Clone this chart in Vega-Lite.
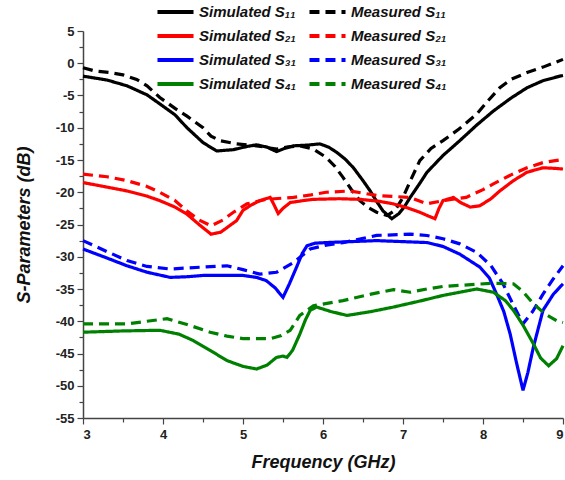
{
  "$schema": "https://vega.github.io/schema/vega-lite/v6.json",
  "width": 480,
  "height": 387,
  "autosize": {"type": "none"},
  "padding": {"left": 83, "top": 31, "right": 2, "bottom": 62},
  "background": "white",
  "config": {
    "view": {"stroke": null},
    "font": "Liberation Sans",
    "axis": {"domainColor": "#444", "tickColor": "#444", "domainWidth": 1.5, "tickWidth": 1.2, "grid": false, "labelFont": "Liberation Sans", "labelFontWeight": "bold", "labelFontSize": 13, "labelColor": "#222", "titleFont": "Liberation Sans", "titleFontWeight": "bold", "titleFontStyle": "italic", "titleFontSize": 18, "titleColor": "#111"}
  },
  "data": {"values": [
    {"f":3.0,"s":-2.0,"series":"Simulated S₁₁"},{"f":3.3,"s":-2.6,"series":"Simulated S₁₁"},{"f":3.55,"s":-3.5,"series":"Simulated S₁₁"},{"f":3.8,"s":-4.9,"series":"Simulated S₁₁"},{"f":3.96,"s":-6.3,"series":"Simulated S₁₁"},{"f":4.15,"s":-8.0,"series":"Simulated S₁₁"},{"f":4.3,"s":-10.0,"series":"Simulated S₁₁"},{"f":4.5,"s":-12.3,"series":"Simulated S₁₁"},{"f":4.67,"s":-13.6,"series":"Simulated S₁₁"},{"f":4.88,"s":-13.4,"series":"Simulated S₁₁"},{"f":5.05,"s":-12.9,"series":"Simulated S₁₁"},{"f":5.17,"s":-12.65,"series":"Simulated S₁₁"},{"f":5.3,"s":-13.0,"series":"Simulated S₁₁"},{"f":5.42,"s":-13.7,"series":"Simulated S₁₁"},{"f":5.52,"s":-13.2,"series":"Simulated S₁₁"},{"f":5.63,"s":-12.8,"series":"Simulated S₁₁"},{"f":5.8,"s":-12.7,"series":"Simulated S₁₁"},{"f":5.96,"s":-12.5,"series":"Simulated S₁₁"},{"f":6.07,"s":-13.0,"series":"Simulated S₁₁"},{"f":6.17,"s":-13.8,"series":"Simulated S₁₁"},{"f":6.28,"s":-14.9,"series":"Simulated S₁₁"},{"f":6.38,"s":-16.2,"series":"Simulated S₁₁"},{"f":6.5,"s":-18.2,"series":"Simulated S₁₁"},{"f":6.59,"s":-19.8,"series":"Simulated S₁₁"},{"f":6.68,"s":-21.6,"series":"Simulated S₁₁"},{"f":6.75,"s":-22.9,"series":"Simulated S₁₁"},{"f":6.86,"s":-24.1,"series":"Simulated S₁₁"},{"f":6.95,"s":-23.3,"series":"Simulated S₁₁"},{"f":7.02,"s":-22.2,"series":"Simulated S₁₁"},{"f":7.09,"s":-20.8,"series":"Simulated S₁₁"},{"f":7.2,"s":-18.8,"series":"Simulated S₁₁"},{"f":7.3,"s":-16.9,"series":"Simulated S₁₁"},{"f":7.5,"s":-14.3,"series":"Simulated S₁₁"},{"f":7.71,"s":-12.0,"series":"Simulated S₁₁"},{"f":7.92,"s":-9.6,"series":"Simulated S₁₁"},{"f":8.13,"s":-7.4,"series":"Simulated S₁₁"},{"f":8.35,"s":-5.4,"series":"Simulated S₁₁"},{"f":8.55,"s":-3.8,"series":"Simulated S₁₁"},{"f":8.75,"s":-2.7,"series":"Simulated S₁₁"},{"f":8.96,"s":-2.0,"series":"Simulated S₁₁"},{"f":9.0,"s":-1.9,"series":"Simulated S₁₁"},

    {"f":3.0,"s":-0.7,"series":"Measured S₁₁"},{"f":3.15,"s":-1.2,"series":"Measured S₁₁"},{"f":3.34,"s":-1.45,"series":"Measured S₁₁"},{"f":3.5,"s":-1.8,"series":"Measured S₁₁"},{"f":3.67,"s":-2.5,"series":"Measured S₁₁"},{"f":3.8,"s":-3.5,"series":"Measured S₁₁"},{"f":3.96,"s":-5.3,"series":"Measured S₁₁"},{"f":4.15,"s":-7.0,"series":"Measured S₁₁"},{"f":4.3,"s":-8.2,"series":"Measured S₁₁"},{"f":4.5,"s":-10.0,"series":"Measured S₁₁"},{"f":4.6,"s":-11.3,"series":"Measured S₁₁"},{"f":4.71,"s":-12.0,"series":"Measured S₁₁"},{"f":4.92,"s":-12.5,"series":"Measured S₁₁"},{"f":5.17,"s":-12.8,"series":"Measured S₁₁"},{"f":5.42,"s":-13.3,"series":"Measured S₁₁"},{"f":5.55,"s":-13.0,"series":"Measured S₁₁"},{"f":5.71,"s":-12.8,"series":"Measured S₁₁"},{"f":5.88,"s":-13.3,"series":"Measured S₁₁"},{"f":6.04,"s":-14.6,"series":"Measured S₁₁"},{"f":6.15,"s":-16.0,"series":"Measured S₁₁"},{"f":6.25,"s":-17.7,"series":"Measured S₁₁"},{"f":6.35,"s":-19.5,"series":"Measured S₁₁"},{"f":6.46,"s":-21.3,"series":"Measured S₁₁"},{"f":6.57,"s":-22.4,"series":"Measured S₁₁"},{"f":6.67,"s":-23.1,"series":"Measured S₁₁"},{"f":6.8,"s":-23.6,"series":"Measured S₁₁"},{"f":6.9,"s":-22.8,"series":"Measured S₁₁"},{"f":7.0,"s":-20.8,"series":"Measured S₁₁"},{"f":7.1,"s":-18.0,"series":"Measured S₁₁"},{"f":7.21,"s":-15.1,"series":"Measured S₁₁"},{"f":7.35,"s":-13.2,"series":"Measured S₁₁"},{"f":7.5,"s":-12.0,"series":"Measured S₁₁"},{"f":7.7,"s":-10.2,"series":"Measured S₁₁"},{"f":7.92,"s":-7.9,"series":"Measured S₁₁"},{"f":8.05,"s":-6.0,"series":"Measured S₁₁"},{"f":8.21,"s":-3.8,"series":"Measured S₁₁"},{"f":8.35,"s":-2.5,"series":"Measured S₁₁"},{"f":8.55,"s":-1.45,"series":"Measured S₁₁"},{"f":8.75,"s":-0.6,"series":"Measured S₁₁"},{"f":9.0,"s":0.6,"series":"Measured S₁₁"},

    {"f":3.0,"s":-18.5,"series":"Simulated S₂₁"},{"f":3.3,"s":-19.2,"series":"Simulated S₂₁"},{"f":3.55,"s":-19.8,"series":"Simulated S₂₁"},{"f":3.8,"s":-20.6,"series":"Simulated S₂₁"},{"f":3.96,"s":-21.3,"series":"Simulated S₂₁"},{"f":4.15,"s":-22.3,"series":"Simulated S₂₁"},{"f":4.3,"s":-23.4,"series":"Simulated S₂₁"},{"f":4.45,"s":-25.0,"series":"Simulated S₂₁"},{"f":4.6,"s":-26.5,"series":"Simulated S₂₁"},{"f":4.72,"s":-26.2,"series":"Simulated S₂₁"},{"f":4.82,"s":-25.3,"series":"Simulated S₂₁"},{"f":4.92,"s":-24.4,"series":"Simulated S₂₁"},{"f":5.0,"s":-22.8,"series":"Simulated S₂₁"},{"f":5.1,"s":-22.0,"series":"Simulated S₂₁"},{"f":5.21,"s":-21.3,"series":"Simulated S₂₁"},{"f":5.34,"s":-20.8,"series":"Simulated S₂₁"},{"f":5.39,"s":-22.0,"series":"Simulated S₂₁"},{"f":5.44,"s":-23.3,"series":"Simulated S₂₁"},{"f":5.5,"s":-22.5,"series":"Simulated S₂₁"},{"f":5.59,"s":-21.6,"series":"Simulated S₂₁"},{"f":5.75,"s":-21.3,"series":"Simulated S₂₁"},{"f":5.88,"s":-21.1,"series":"Simulated S₂₁"},{"f":6.2,"s":-21.0,"series":"Simulated S₂₁"},{"f":6.46,"s":-21.1,"series":"Simulated S₂₁"},{"f":6.7,"s":-21.4,"series":"Simulated S₂₁"},{"f":6.88,"s":-21.8,"series":"Simulated S₂₁"},{"f":7.05,"s":-22.4,"series":"Simulated S₂₁"},{"f":7.21,"s":-23.1,"series":"Simulated S₂₁"},{"f":7.32,"s":-23.7,"series":"Simulated S₂₁"},{"f":7.4,"s":-24.1,"series":"Simulated S₂₁"},{"f":7.45,"s":-22.5,"series":"Simulated S₂₁"},{"f":7.5,"s":-21.3,"series":"Simulated S₂₁"},{"f":7.63,"s":-20.8,"series":"Simulated S₂₁"},{"f":7.72,"s":-21.6,"series":"Simulated S₂₁"},{"f":7.84,"s":-22.3,"series":"Simulated S₂₁"},{"f":7.96,"s":-22.1,"series":"Simulated S₂₁"},{"f":8.1,"s":-21.0,"series":"Simulated S₂₁"},{"f":8.21,"s":-19.8,"series":"Simulated S₂₁"},{"f":8.38,"s":-18.2,"series":"Simulated S₂₁"},{"f":8.55,"s":-16.9,"series":"Simulated S₂₁"},{"f":8.75,"s":-16.2,"series":"Simulated S₂₁"},{"f":8.9,"s":-16.3,"series":"Simulated S₂₁"},{"f":9.0,"s":-16.4,"series":"Simulated S₂₁"},

    {"f":3.0,"s":-17.2,"series":"Measured S₂₁"},{"f":3.3,"s":-17.6,"series":"Measured S₂₁"},{"f":3.55,"s":-18.2,"series":"Measured S₂₁"},{"f":3.8,"s":-19.1,"series":"Measured S₂₁"},{"f":3.96,"s":-20.0,"series":"Measured S₂₁"},{"f":4.15,"s":-21.3,"series":"Measured S₂₁"},{"f":4.3,"s":-22.9,"series":"Measured S₂₁"},{"f":4.45,"s":-24.3,"series":"Measured S₂₁"},{"f":4.6,"s":-25.2,"series":"Measured S₂₁"},{"f":4.75,"s":-24.3,"series":"Measured S₂₁"},{"f":4.88,"s":-23.1,"series":"Measured S₂₁"},{"f":5.05,"s":-21.8,"series":"Measured S₂₁"},{"f":5.29,"s":-21.1,"series":"Measured S₂₁"},{"f":5.63,"s":-20.8,"series":"Measured S₂₁"},{"f":5.85,"s":-20.4,"series":"Measured S₂₁"},{"f":6.04,"s":-20.0,"series":"Measured S₂₁"},{"f":6.34,"s":-19.8,"series":"Measured S₂₁"},{"f":6.67,"s":-20.5,"series":"Measured S₂₁"},{"f":7.09,"s":-20.8,"series":"Measured S₂₁"},{"f":7.3,"s":-21.8,"series":"Measured S₂₁"},{"f":7.5,"s":-21.3,"series":"Measured S₂₁"},{"f":7.79,"s":-20.8,"series":"Measured S₂₁"},{"f":8.0,"s":-19.6,"series":"Measured S₂₁"},{"f":8.13,"s":-18.7,"series":"Measured S₂₁"},{"f":8.35,"s":-17.3,"series":"Measured S₂₁"},{"f":8.55,"s":-16.2,"series":"Measured S₂₁"},{"f":8.75,"s":-15.4,"series":"Measured S₂₁"},{"f":9.0,"s":-14.9,"series":"Measured S₂₁"},

    {"f":3.0,"s":-28.8,"series":"Simulated S₃₁"},{"f":3.3,"s":-30.2,"series":"Simulated S₃₁"},{"f":3.55,"s":-31.4,"series":"Simulated S₃₁"},{"f":3.8,"s":-32.4,"series":"Simulated S₃₁"},{"f":4.09,"s":-33.2,"series":"Simulated S₃₁"},{"f":4.3,"s":-33.1,"series":"Simulated S₃₁"},{"f":4.5,"s":-32.9,"series":"Simulated S₃₁"},{"f":5.0,"s":-32.9,"series":"Simulated S₃₁"},{"f":5.17,"s":-33.2,"series":"Simulated S₃₁"},{"f":5.29,"s":-33.7,"series":"Simulated S₃₁"},{"f":5.4,"s":-34.8,"series":"Simulated S₃₁"},{"f":5.5,"s":-36.3,"series":"Simulated S₃₁"},{"f":5.58,"s":-34.2,"series":"Simulated S₃₁"},{"f":5.67,"s":-31.6,"series":"Simulated S₃₁"},{"f":5.74,"s":-29.5,"series":"Simulated S₃₁"},{"f":5.8,"s":-28.3,"series":"Simulated S₃₁"},{"f":5.9,"s":-27.9,"series":"Simulated S₃₁"},{"f":6.04,"s":-27.8,"series":"Simulated S₃₁"},{"f":6.67,"s":-27.5,"series":"Simulated S₃₁"},{"f":7.3,"s":-27.8,"series":"Simulated S₃₁"},{"f":7.5,"s":-28.4,"series":"Simulated S₃₁"},{"f":7.71,"s":-29.6,"series":"Simulated S₃₁"},{"f":7.96,"s":-31.6,"series":"Simulated S₃₁"},{"f":8.08,"s":-33.3,"series":"Simulated S₃₁"},{"f":8.17,"s":-35.8,"series":"Simulated S₃₁"},{"f":8.26,"s":-38.5,"series":"Simulated S₃₁"},{"f":8.34,"s":-42.0,"series":"Simulated S₃₁"},{"f":8.42,"s":-46.5,"series":"Simulated S₃₁"},{"f":8.5,"s":-50.7,"series":"Simulated S₃₁"},{"f":8.56,"s":-48.0,"series":"Simulated S₃₁"},{"f":8.63,"s":-44.0,"series":"Simulated S₃₁"},{"f":8.75,"s":-38.3,"series":"Simulated S₃₁"},{"f":8.88,"s":-35.8,"series":"Simulated S₃₁"},{"f":9.0,"s":-34.2,"series":"Simulated S₃₁"},

    {"f":3.0,"s":-27.5,"series":"Measured S₃₁"},{"f":3.3,"s":-29.2,"series":"Measured S₃₁"},{"f":3.55,"s":-30.6,"series":"Measured S₃₁"},{"f":3.8,"s":-31.5,"series":"Measured S₃₁"},{"f":4.09,"s":-31.9,"series":"Measured S₃₁"},{"f":4.5,"s":-31.6,"series":"Measured S₃₁"},{"f":4.8,"s":-31.4,"series":"Measured S₃₁"},{"f":5.0,"s":-32.0,"series":"Measured S₃₁"},{"f":5.21,"s":-32.7,"series":"Measured S₃₁"},{"f":5.42,"s":-32.4,"series":"Measured S₃₁"},{"f":5.63,"s":-30.9,"series":"Measured S₃₁"},{"f":5.84,"s":-28.8,"series":"Measured S₃₁"},{"f":6.04,"s":-28.2,"series":"Measured S₃₁"},{"f":6.25,"s":-27.8,"series":"Measured S₃₁"},{"f":6.67,"s":-26.7,"series":"Measured S₃₁"},{"f":7.09,"s":-26.5,"series":"Measured S₃₁"},{"f":7.3,"s":-26.7,"series":"Measured S₃₁"},{"f":7.5,"s":-27.2,"series":"Measured S₃₁"},{"f":7.71,"s":-28.0,"series":"Measured S₃₁"},{"f":7.92,"s":-29.3,"series":"Measured S₃₁"},{"f":8.1,"s":-31.4,"series":"Measured S₃₁"},{"f":8.25,"s":-34.2,"series":"Measured S₃₁"},{"f":8.38,"s":-37.5,"series":"Measured S₃₁"},{"f":8.5,"s":-40.4,"series":"Measured S₃₁"},{"f":8.62,"s":-38.5,"series":"Measured S₃₁"},{"f":8.75,"s":-35.8,"series":"Measured S₃₁"},{"f":8.88,"s":-33.4,"series":"Measured S₃₁"},{"f":9.0,"s":-31.4,"series":"Measured S₃₁"},

    {"f":3.0,"s":-41.7,"series":"Simulated S₄₁"},{"f":3.5,"s":-41.5,"series":"Simulated S₄₁"},{"f":3.96,"s":-41.4,"series":"Simulated S₄₁"},{"f":4.2,"s":-42.0,"series":"Simulated S₄₁"},{"f":4.38,"s":-43.0,"series":"Simulated S₄₁"},{"f":4.6,"s":-44.6,"series":"Simulated S₄₁"},{"f":4.8,"s":-46.1,"series":"Simulated S₄₁"},{"f":5.0,"s":-47.0,"series":"Simulated S₄₁"},{"f":5.17,"s":-47.4,"series":"Simulated S₄₁"},{"f":5.3,"s":-46.8,"series":"Simulated S₄₁"},{"f":5.42,"s":-45.6,"series":"Simulated S₄₁"},{"f":5.5,"s":-45.4,"series":"Simulated S₄₁"},{"f":5.55,"s":-45.6,"series":"Simulated S₄₁"},{"f":5.62,"s":-44.5,"series":"Simulated S₄₁"},{"f":5.71,"s":-42.0,"series":"Simulated S₄₁"},{"f":5.78,"s":-39.8,"series":"Simulated S₄₁"},{"f":5.84,"s":-38.3,"series":"Simulated S₄₁"},{"f":5.92,"s":-37.8,"series":"Simulated S₄₁"},{"f":6.1,"s":-38.5,"series":"Simulated S₄₁"},{"f":6.3,"s":-39.1,"series":"Simulated S₄₁"},{"f":6.6,"s":-38.5,"series":"Simulated S₄₁"},{"f":6.88,"s":-37.8,"series":"Simulated S₄₁"},{"f":7.2,"s":-36.9,"series":"Simulated S₄₁"},{"f":7.5,"s":-36.0,"series":"Simulated S₄₁"},{"f":7.92,"s":-35.0,"series":"Simulated S₄₁"},{"f":8.13,"s":-35.5,"series":"Simulated S₄₁"},{"f":8.28,"s":-36.8,"series":"Simulated S₄₁"},{"f":8.38,"s":-38.3,"series":"Simulated S₄₁"},{"f":8.5,"s":-40.6,"series":"Simulated S₄₁"},{"f":8.63,"s":-43.5,"series":"Simulated S₄₁"},{"f":8.72,"s":-45.7,"series":"Simulated S₄₁"},{"f":8.82,"s":-46.9,"series":"Simulated S₄₁"},{"f":8.92,"s":-45.8,"series":"Simulated S₄₁"},{"f":9.0,"s":-43.8,"series":"Simulated S₄₁"},

    {"f":3.0,"s":-40.4,"series":"Measured S₄₁"},{"f":3.55,"s":-40.4,"series":"Measured S₄₁"},{"f":3.8,"s":-40.0,"series":"Measured S₄₁"},{"f":4.05,"s":-39.6,"series":"Measured S₄₁"},{"f":4.3,"s":-40.5,"series":"Measured S₄₁"},{"f":4.59,"s":-41.7,"series":"Measured S₄₁"},{"f":4.8,"s":-42.3,"series":"Measured S₄₁"},{"f":5.0,"s":-42.7,"series":"Measured S₄₁"},{"f":5.34,"s":-42.7,"series":"Measured S₄₁"},{"f":5.48,"s":-42.2,"series":"Measured S₄₁"},{"f":5.59,"s":-41.4,"series":"Measured S₄₁"},{"f":5.71,"s":-39.1,"series":"Measured S₄₁"},{"f":5.88,"s":-37.6,"series":"Measured S₄₁"},{"f":6.25,"s":-36.8,"series":"Measured S₄₁"},{"f":6.6,"s":-35.8,"series":"Measured S₄₁"},{"f":6.88,"s":-35.1,"series":"Measured S₄₁"},{"f":7.09,"s":-35.5,"series":"Measured S₄₁"},{"f":7.3,"s":-35.0,"series":"Measured S₄₁"},{"f":7.5,"s":-34.6,"series":"Measured S₄₁"},{"f":8.13,"s":-34.1,"series":"Measured S₄₁"},{"f":8.38,"s":-34.2,"series":"Measured S₄₁"},{"f":8.5,"s":-35.4,"series":"Measured S₄₁"},{"f":8.63,"s":-37.3,"series":"Measured S₄₁"},{"f":8.78,"s":-38.9,"series":"Measured S₄₁"},{"f":8.92,"s":-39.9,"series":"Measured S₄₁"},{"f":9.0,"s":-40.2,"series":"Measured S₄₁"}
  ]},
  "mark": {"type": "line", "strokeWidth": 3.2, "clip": false},
  "encoding": {
    "x": {"field": "f", "type": "quantitative",
      "scale": {"domain": [3, 9], "nice": false, "zero": false},
      "axis": {"title": "Frequency (GHz)", "values": [3,3.5,4,4.5,5,5.5,6,6.5,7,7.5,8,8.5,9],
        "labelExpr": "datum.value % 1 === 0 ? '' + datum.value : ''",
        "tickSize": {"condition": {"test": "datum.value % 1 !== 0", "value": 4}, "value": 6},
        "labelPadding": 4, "titlePadding": 12}},
    "y": {"field": "s", "type": "quantitative",
      "scale": {"domain": [-55, 5], "nice": false, "zero": false},
      "axis": {"title": "S-Parameters (dB)", "values": [-55,-52.5,-50,-47.5,-45,-42.5,-40,-37.5,-35,-32.5,-30,-27.5,-25,-22.5,-20,-17.5,-15,-12.5,-10,-7.5,-5,-2.5,0,2.5,5],
        "labelExpr": "datum.value % 5 !== 0 ? '' : (datum.value < 0 ? '-' + abs(datum.value) : '' + datum.value)",
        "tickSize": {"condition": {"test": "datum.value % 5 !== 0", "value": 4}, "value": 6},
        "labelPadding": 3, "titlePadding": 22}},
    "color": {"field": "series", "type": "nominal",
      "scale": {"domain": ["Simulated S₁₁","Simulated S₂₁","Simulated S₃₁","Simulated S₄₁","Measured S₁₁","Measured S₂₁","Measured S₃₁","Measured S₄₁"],
        "range": ["#000000","#ff0000","#0000ff","#008000","#000000","#ff0000","#0000ff","#008000"]},
      "legend": {"title": null, "orient": "none", "legendX": 72, "legendY": -30, "columns": 2, "symbolType": "stroke", "symbolSize": 1300, "symbolStrokeWidth": 4, "clipHeight": 22, "labelFont": "Liberation Sans", "labelFontStyle": "italic", "labelFontWeight": "bold", "labelFontSize": 15, "labelColor": "#111", "labelOffset": 3, "columnPadding": 10, "rowPadding": 2, "padding": 0, "labelLimit": 300}},
    "strokeDash": {"field": "series", "type": "nominal",
      "scale": {"domain": ["Simulated S₁₁","Simulated S₂₁","Simulated S₃₁","Simulated S₄₁","Measured S₁₁","Measured S₂₁","Measured S₃₁","Measured S₄₁"],
        "range": [[1,0],[1,0],[1,0],[1,0],[10,6],[10,6],[10,6],[10,6]]}}
  }
}
